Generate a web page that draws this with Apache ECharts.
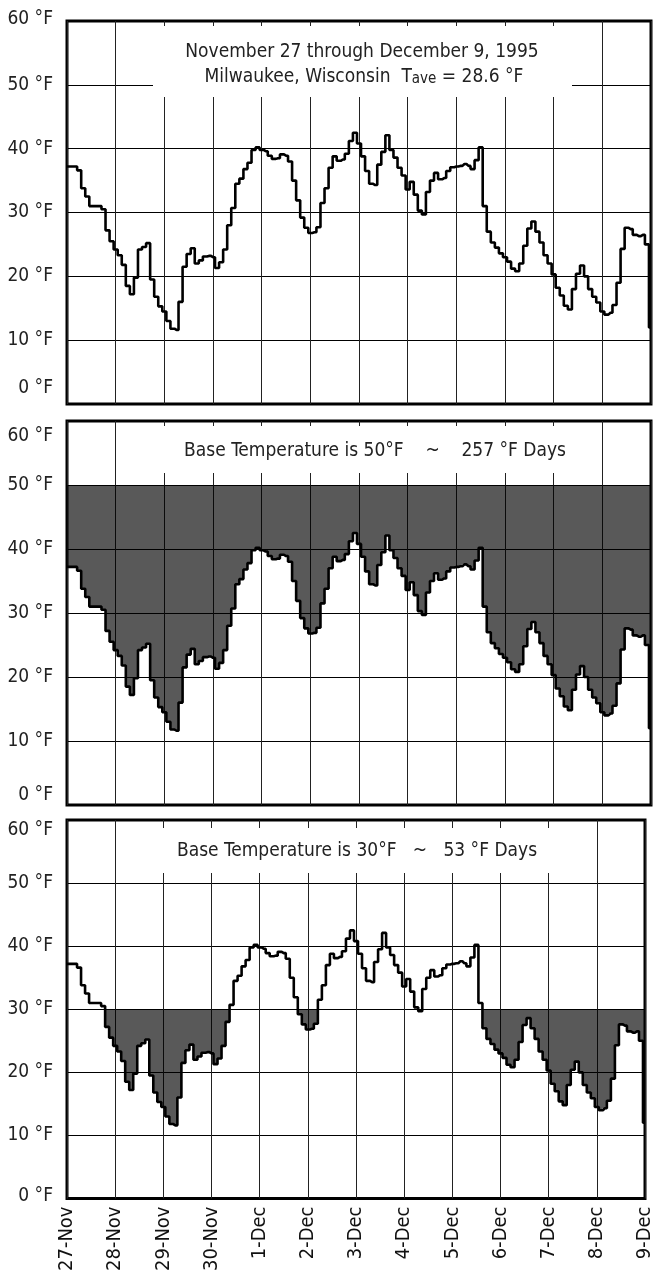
<!DOCTYPE html>
<html><head><meta charset="utf-8">
<script src="https://cdn.jsdelivr.net/npm/echarts@6/dist/echarts.min.js"></script>
<style>html,body{margin:0;padding:0;background:#fff}#c{width:655px;height:1274px}</style>
</head><body><div id="c"></div>
<script>
// Day labels (one per 24 h)
const dayLabels = ['27-Nov','28-Nov','29-Nov','30-Nov','1-Dec','2-Dec','3-Dec','4-Dec','5-Dec','6-Dec','7-Dec','8-Dec','9-Dec'];
// Temperature (°F), every 2 hours from 27-Nov 00:00 to 9-Dec 00:00
const temps = [
  37.2,37.2,37.2,36.6,33.8,32.5,31,31,31,30.5,27.2,25.5,
  24.2,23.3,21.8,18.5,17.2,19.8,24.2,24.6,25.2,19.5,16.8,15.3,
  14.5,13,11.8,11.6,16,21.5,23.5,24.4,22,22.5,23.1,23.2,
  23,21.3,22.2,24.2,28,30.7,34.5,35.3,36.8,37.8,39.8,40.2,
  39.8,39.6,38.9,38.4,38.5,39.1,38.9,38,35,31.9,29.2,27.6,
  26.8,26.9,27.7,31.5,33.8,37,38.8,38.1,38.3,39.2,41.2,42.5,
  40.8,38.8,36.5,34.5,34.3,37.5,39.5,42.1,39.8,38.6,37,35.8,
  33.6,34.8,32.8,30.3,29.7,33.2,35,36.2,35.2,35.4,36.5,37.1,
  37.2,37.3,37.6,37.3,36.8,38.2,40.2,31,27,25.3,24.5,23.6,
  23,22.3,21.2,20.8,22,24.8,27.5,28.6,27,25.3,23.3,22,
  20.3,18.2,17,15.4,14.8,18,20.4,21.7,20,18,16.8,15.9,
  14.5,14,14.3,15.5,19,24.3,27.6,27.4,26.5,26.3,26.5,25,
  12
];
const hourStep = 2;
const baseTemps = [50, 30];        // base temperatures of panels 2 and 3
const degreeDays = [257, 53];
const tAve = 28.6;

const FONT = "'Liberation Sans Narrow','DejaVu Sans Condensed','Arial Narrow','Liberation Sans',sans-serif";
const grids = [
  {left:67, top:21, width:584, height:383},
  {left:67, top:421, width:584, height:384},
  {left:67, top:820, width:584, height:384}
];
// vertical label offsets (px) of the 60 °F and 0 °F labels in each panel
const labelShift = [{top:-2, bottom:-16}, {top:15, bottom:-10}, {top:10, bottom:-2}];

const hours = temps.map((_, i) => i * hourStep);
const perDay = 24 / hourStep;

const xAxes = grids.map((g, i) => ({
  type:'category', gridIndex:i, data:hours, boundaryGap:false,
  axisLine:{show:false}, axisTick:{show:false},
  splitLine:{show:true, interval:perDay-1, lineStyle:{color:'#222', width:1}},
  axisLabel:{show:i===2, interval:perDay-1, rotate:90, margin:8, fontSize:20, color:'#111', fontFamily:FONT,
    formatter: (v, idx) => dayLabels[Math.round(idx / perDay)]}
}));
const padFor = off => off >= 0 ? [2*off, 0, 0, 0] : [0, 0, -2*off, 0];
const yAxes = grids.map((g, i) => ({
  type:'value', gridIndex:i, min:0, max:60, interval:10,
  axisLine:{show:false}, axisTick:{show:false},
  splitLine:{show:true, lineStyle:{color:'#000', width:1}},
  axisLabel:{margin:14, fontSize:19, color:'#222', fontFamily:FONT,
    formatter: v => v === 60 ? '{t|60 °F}' : v === 0 ? '{b|0 °F}' : v + ' °F',
    rich:{
      t:{fontSize:19, fontFamily:FONT, color:'#222', padding:padFor(labelShift[i].top)},
      b:{fontSize:19, fontFamily:FONT, color:'#222', padding:padFor(labelShift[i].bottom)}
    }}
}));

const curve = i => ({type:'line', xAxisIndex:i, yAxisIndex:i, data:temps, step:'middle',
  symbol:'none', silent:true, lineStyle:{color:'#000', width:2.6}, z:5});
const series = [curve(0)];
baseTemps.forEach((b, k) => {
  const gi = k + 1;
  const lower = temps.map(t => Math.min(t, b));
  const diff = lower.map(t => +(b - t).toFixed(2));
  series.push({type:'line', xAxisIndex:gi, yAxisIndex:gi, stack:'s'+gi, data:lower, step:'middle',
    symbol:'none', silent:true, lineStyle:{width:0, opacity:0}, z:3});
  series.push({type:'line', xAxisIndex:gi, yAxisIndex:gi, stack:'s'+gi, data:diff, step:'middle',
    symbol:'none', silent:true, lineStyle:{width:0, opacity:0}, areaStyle:{color:'rgba(0,0,0,0.65)', opacity:1}, z:3});
  series.push(curve(gi));
});

const txt = (text, x, y, rich) => ({type:'text', z:20, style:{text, x, y, align:'center', verticalAlign:'middle',
  fontSize:19, fontFamily:FONT, fill:'#222', rich: rich || {}}});
const box = (x, y, w, h) => ({type:'rect', z:19, shape:{x, y, width:w, height:h}, style:{fill:'#fff'}});

const graphic = [
  box(153, 26, 419, 71),
  txt('November 27 through December 9, 1995', 362, 52),
  txt('Milwaukee, Wisconsin  T{sub|ave} = ' + tAve + ' °F', 364, 77,
      {sub:{fontSize:15, fontFamily:FONT, fill:'#222', verticalAlign:'bottom', lineHeight:12}}),
  box(153, 426, 440, 47),
  txt('Base Temperature is ' + baseTemps[0] + '°F    ~    ' + degreeDays[0] + ' °F Days', 375, 451),
  box(153, 828, 419, 45),
  txt('Base Temperature is ' + baseTemps[1] + '°F   ~   ' + degreeDays[1] + ' °F Days', 357, 851)
];

const chart = echarts.init(document.getElementById('c'), null, {renderer:'canvas'});
chart.setOption({
  animation:false, backgroundColor:'#fff',
  grid: grids.map(g => Object.assign({show:true, borderColor:'#000', borderWidth:3, backgroundColor:'transparent'}, g)),
  xAxis:xAxes, yAxis:yAxes, series, graphic
});
</script></body></html>
